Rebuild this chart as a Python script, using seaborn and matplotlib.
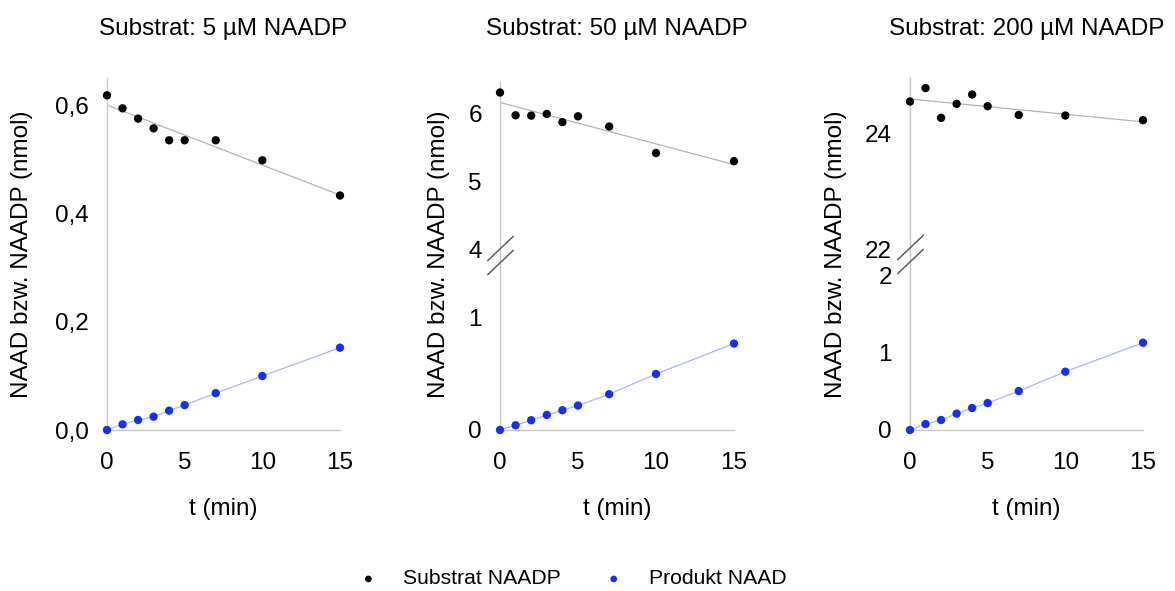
import numpy as np
import pandas as pd
import matplotlib
matplotlib.use("Agg")
import matplotlib.pyplot as plt
import matplotlib.transforms as mtransforms
import seaborn as sns

# ---------------- data ----------------
t_min = [0, 1, 2, 3, 4, 5, 7, 10, 15]

titles = ["Substrat: 5 µM NAADP", "Substrat: 50 µM NAADP", "Substrat: 200 µM NAADP"]

sub_5 = [0.618, 0.594, 0.575, 0.557, 0.535, 0.535, 0.535, 0.498, 0.433]
prod_5 = [0.0, 0.0105, 0.0185, 0.0246, 0.0357, 0.046, 0.068, 0.0997, 0.152]

sub_50 = [6.315, 5.98, 5.975, 6.0, 5.88, 5.965, 5.815, 5.425, 5.305]
prod_50 = [0.0, 0.042, 0.087, 0.134, 0.176, 0.218, 0.319, 0.499, 0.770]

sub_200 = [24.54, 24.77, 24.26, 24.50, 24.66, 24.46, 24.31, 24.30, 24.22]
prod_200 = [0.0, 0.077, 0.129, 0.211, 0.284, 0.348, 0.503, 0.753, 1.127]

xticks = [0, 5, 10, 15]
yticks_5 = [0.0, 0.2, 0.4, 0.6]
yticklabels_5 = ["0,0", "0,2", "0,4", "0,6"]
yticks_50_top = [4, 5, 6]
yticks_50_bot = [0, 1]
yticks_200_top = [22, 24]
yticks_200_bot = [0, 1, 2]

series_labels = ["Substrat NAADP", "Produkt NAAD"]
xlabel = "t (min)"
ylabel = "NAAD bzw. NAADP (nmol)"

# ---------------- style ----------------
sns.set_theme(style="white")
plt.rcParams["font.family"] = ["Liberation Sans", "DejaVu Sans"]
plt.rcParams["text.color"] = "black"
plt.rcParams["axes.labelcolor"] = "black"
plt.rcParams["xtick.color"] = "black"
plt.rcParams["ytick.color"] = "black"

FS = 17.5
SPINE = "#c8c8c8"
BLACK = "#000000"
BLUE = "#1530f0"
LINE_GRAY = "#b4b4b4"
LINE_BLUE = "#aab4ff"

W, H = 1175, 591
fig = plt.figure(figsize=(W / 100, H / 100), dpi=100)


def fx(px):
    return px / W


def fy(px):
    return 1 - px / H


def make_ax(left_px, right_px, top_px, bottom_px):
    return fig.add_axes([fx(left_px), fy(bottom_px), fx(right_px - left_px), (bottom_px - top_px) / H])


def style_ax(ax, bottom=True):
    for s in ["right", "top"]:
        ax.spines[s].set_visible(False)
    ax.spines["left"].set_color(SPINE)
    ax.spines["bottom"].set_color(SPINE)
    ax.spines["left"].set_linewidth(1.0)
    ax.spines["bottom"].set_linewidth(1.0)
    if not bottom:
        ax.spines["bottom"].set_visible(False)
        ax.tick_params(axis="x", bottom=False, labelbottom=False)
    else:
        ax.set_xticks(xticks)
        ax.tick_params(axis="x", direction="in", length=3, color=SPINE, pad=16,
                       labelsize=FS, labelcolor="black")
    ax.tick_params(axis="y", direction="out", length=3, color=SPINE, pad=10,
                   labelsize=FS, labelcolor="black")
    ax.set_xlim(0, 15)
    ax.set_xlabel("")
    ax.set_ylabel("")
    ax.set_facecolor("none")


def scatter(ax, y, color, label=None):
    df = pd.DataFrame({"t": t_min, "v": y})
    sns.scatterplot(data=df, x="t", y="v", color=color, s=36, edgecolor="none",
                    clip_on=False, zorder=4, ax=ax, label=label, legend=False)


def fit_line(ax, y):
    df = pd.DataFrame({"t": t_min, "v": y})
    sns.regplot(data=df, x="t", y="v", scatter=False, ci=None, ax=ax,
                line_kws=dict(color=LINE_GRAY, lw=0.9, zorder=2))


def conn_line(ax, y):
    df = pd.DataFrame({"t": t_min, "v": y})
    sns.lineplot(data=df, x="t", y="v", color=LINE_BLUE, lw=0.9, ax=ax, zorder=2)


def add_break(ax_low, up=8, down=6):
    for dy in (up, -down):
        tr = mtransforms.offset_copy(ax_low.transAxes, fig=fig, x=0, y=dy, units="dots")
        ax_low.plot([0], [1], transform=tr, marker=[(-1, -0.95), (1, 0.95)],
                    markersize=19, mew=1.1, color="#606060", linestyle="none",
                    clip_on=False, zorder=5)


panel_px = [(107, 340), (500, 734), (910, 1143)]

# ---- panel 1 ----
ax1 = make_ax(107, 340, 78, 430)
fit_line(ax1, sub_5)
conn_line(ax1, prod_5)
scatter(ax1, sub_5, BLACK, series_labels[0])
scatter(ax1, prod_5, BLUE, series_labels[1])
ax1.set_ylim(0, 0.65)
ax1.set_yticks(yticks_5)
ax1.set_yticklabels(yticklabels_5)
style_ax(ax1)

# ---- panel 2 ----
ax2t = make_ax(500, 734, 82, 256)
ax2b = make_ax(500, 734, 256, 430)
fit_line(ax2t, sub_50)
scatter(ax2t, sub_50, BLACK)
conn_line(ax2b, prod_50)
scatter(ax2b, prod_50, BLUE)
ax2t.set_ylim(3.91, 6.47)
ax2t.set_yticks(yticks_50_top)
ax2b.set_ylim(0, 1.55)
ax2b.set_yticks(yticks_50_bot)
style_ax(ax2t, bottom=False)
style_ax(ax2b)
add_break(ax2b)

# ---- panel 3 ----
ax3t = make_ax(910, 1143, 77, 255)
ax3b = make_ax(910, 1143, 255, 430)
fit_line(ax3t, sub_200)
scatter(ax3t, sub_200, BLACK)
conn_line(ax3b, prod_200)
scatter(ax3b, prod_200, BLUE)
ax3t.set_ylim(21.91, 24.96)
ax3t.set_yticks(yticks_200_top)
ax3b.set_ylim(0, 2.26)
ax3b.set_yticks(yticks_200_bot)
style_ax(ax3t, bottom=False)
style_ax(ax3b)
add_break(ax3b)

# ---- labels ----
for ax in (ax1, ax2b, ax3b):
    ax.set_xlabel(xlabel, fontsize=FS, labelpad=17, color="black")

ylabel_x = [22, 439, 836]
for (l, r), title, yx in zip(panel_px, titles, ylabel_x):
    fig.text(fx((l + r) / 2), fy(35), title, ha="center", va="baseline", fontsize=FS,
             color="black")
    fig.text(fx(yx), fy(254), ylabel, ha="center", va="center", rotation=90, fontsize=FS,
             color="black")

handles, labels = ax1.get_legend_handles_labels()
fig.legend(handles, labels, loc="center", bbox_to_anchor=(fx(572), fy(579)), ncol=2,
           frameon=False, fontsize=15.2, markerscale=0.8, handlelength=1.0,
           handletextpad=1.15, columnspacing=2.0, labelcolor="black")

fig.savefig("out.png", dpi=100)
